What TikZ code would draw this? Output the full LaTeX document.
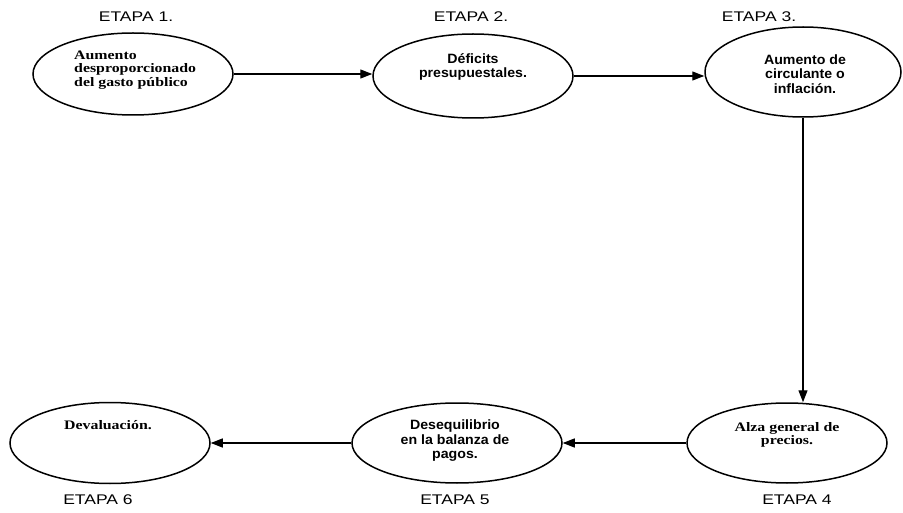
\documentclass[tikz,border=0pt]{standalone}
\usepackage{fontspec}
\setmainfont{Liberation Serif}
\newfontfamily\stageserif[FakeStretch=1.22]{Liberation Serif}
\newfontfamily\stagesans[FakeStretch=1.05]{Liberation Sans}
\newfontfamily\etapafont[FakeStretch=1.25]{Liberation Sans}
\usetikzlibrary{shapes.geometric, arrows.meta}

\begin{document}
\begin{tikzpicture}[
    x=1pt, y=-1pt,
    stage/.style={ellipse, draw, line width=1.5pt, inner sep=0pt,
        minimum width=200pt, minimum height=82pt},
    serifnote/.style={inner sep=0pt, align=center,
        font=\stageserif\bfseries\fontsize{13}{13.5}\selectfont},
    sansnote/.style={inner sep=0pt, align=center,
        font=\stagesans\bfseries\fontsize{13.5}{14.5}\selectfont},
    etapa/.style={inner sep=0pt, font=\etapafont\fontsize{14}{16}\selectfont},
    flow/.style={-{Triangle[length=12pt, width=9pt]}, line width=1.3pt}
]
\useasboundingbox (0,0) rectangle (903,513);

% Stage ellipses
\node[stage] (e1) at (133,74) {};
\node[stage, minimum height=84pt] (e2) at (473,76) {};
\node[stage, minimum width=196pt, minimum height=90pt] (e3) at (803,72) {};
\node[stage, minimum height=80pt] (e4) at (787,443) {};
\node[stage, minimum width=210pt, minimum height=80pt] (e5) at (457,443) {};
\node[stage, minimum height=81pt] (e6) at (110,443) {};

% Texts in the ellipses
\node[serifnote, align=left, anchor=west] (t1) at (74,70) {Aumento\\desproporcionado\\del gasto público};
\node[sansnote] (t2) at (473,67) {Déficits\\presupuestales.};
\node[sansnote] (t3) at (805,74) {Aumento de\\circulante o\\inflación.};
\node[serifnote] (t4) at (787,435) {Alza general de\\precios.};
\node[sansnote] (t5) at (455,441) {Desequilibrio\\en la balanza de\\pagos.};
\node[serifnote] (t6) at (108,425) {Devaluación.};

% Stage titles
\node[etapa] (s1) at (136,17) {ETAPA 1.};
\node[etapa] (s2) at (471,17) {ETAPA 2.};
\node[etapa] (s3) at (759,17) {ETAPA 3.};
\node[etapa] (s4) at (797,500) {ETAPA 4};
\node[etapa] (s5) at (455,500) {ETAPA 5};
\node[etapa] (s6) at (98,500) {ETAPA 6};

% Arrows
\draw[flow] (e1.east) -- (e1.east -| e2.west);
\draw[flow] (e2.east) -- (e2.east -| e3.west);
\draw[flow] (e3.south) -- (e3.south |- e4.north);
\draw[flow] (e4) -- (e5);
\draw[flow] (e5) -- (e6);

\end{tikzpicture}
\end{document}
